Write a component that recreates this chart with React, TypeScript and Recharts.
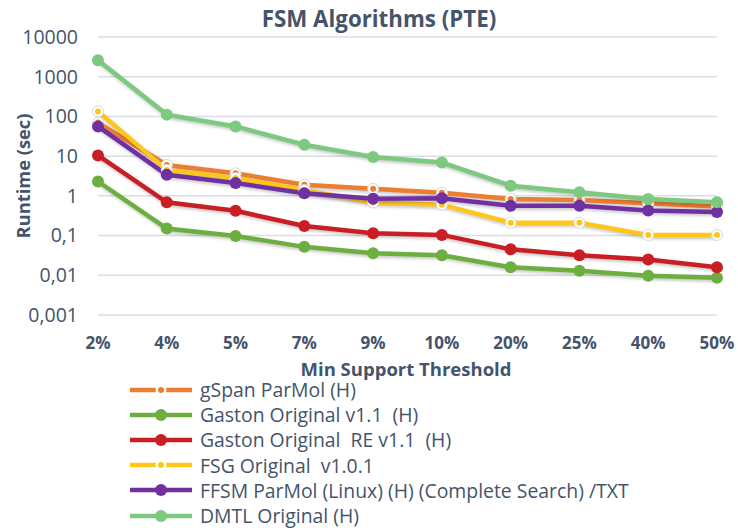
import React from 'react';
import { LineChart, Line, XAxis, YAxis, CartesianGrid } from 'recharts';

const categories = ['2%', '4%', '5%', '7%', '9%', '10%', '20%', '25%', '40%', '50%'];
const gSpanParMol = [70, 6, 3.7, 1.9, 1.5, 1.2, 0.83, 0.79, 0.65, 0.54];
const gastonOriginal = [2.3, 0.15, 0.098, 0.052, 0.036, 0.032, 0.016, 0.013, 0.0098, 0.0087];
const gastonRE = [10.4, 0.69, 0.42, 0.175, 0.114, 0.104, 0.045, 0.032, 0.025, 0.016];
const fsgOriginal = [134, 4.5, 2.8, 1.4, 0.68, 0.6, 0.21, 0.21, 0.104, 0.104];
const ffsmParMol = [56, 3.4, 2.1, 1.17, 0.84, 0.87, 0.56, 0.56, 0.43, 0.39];
const dmtlOriginal = [2600, 111, 56, 19.4, 9.5, 6.9, 1.8, 1.24, 0.83, 0.69];
const yTicks = [0.001, 0.01, 0.1, 1, 10, 100, 1000, 10000];

const series = [
  { key: 'gspan', name: 'gSpan ParMol (H)', values: gSpanParMol, color: '#ED7D31', hollow: true },
  { key: 'gaston', name: 'Gaston Original v1.1  (H)', values: gastonOriginal, color: '#6DAF3F', hollow: false },
  { key: 'gastonre', name: 'Gaston Original  RE v1.1  (H)', values: gastonRE, color: '#C81E24', hollow: false },
  { key: 'fsg', name: 'FSG Original  v1.0.1', values: fsgOriginal, color: '#FFC61A', hollow: true },
  { key: 'ffsm', name: 'FFSM ParMol (Linux) (H) (Complete Search) /TXT', values: ffsmParMol, color: '#7030A0', hollow: false },
  { key: 'dmtl', name: 'DMTL Original (H)', values: dmtlOriginal, color: '#7CC97F', hollow: false },
];

const data = categories.map((c, i) => {
  const row: Record<string, string | number> = { cat: c };
  series.forEach((s) => {
    row[s.key] = s.values[i];
  });
  return row;
});

const TEXT = '#44546A';
const FONT = '"Open Sans", "Noto Sans", sans-serif';

const makeDot = (color: string, hollow: boolean) => (props: any) => {
  const { cx, cy, index } = props;
  if (cx == null || cy == null) return <g key={index} />;
  if (hollow) {
    return (
      <g key={index}>
        <circle cx={cx} cy={cy} r={5.5} fill="#ffffff" stroke="#d8d8d8" strokeWidth={1} />
        <circle cx={cx} cy={cy} r={3} fill={color} />
      </g>
    );
  }
  return <circle key={index} cx={cx} cy={cy} r={6} fill={color} />;
};

const LegendBlock = () => (
  <div
    style={{
      position: 'absolute',
      left: 128,
      top: 377,
      fontFamily: FONT,
      fontSize: 19.4,
      color: TEXT,
      whiteSpace: 'pre',
    }}
  >
    {series.map((s) => (
      <div key={s.key} style={{ display: 'flex', alignItems: 'center', height: 25.2 }}>
        <svg width={68} height={14} style={{ marginRight: 4 }}>
          <line x1={2} y1={7} x2={64} y2={7} stroke={s.color} strokeWidth={4.5} />
          {s.hollow ? (
            <>
              <circle cx={33} cy={7} r={5.5} fill="#ffffff" />
              <circle cx={33} cy={7} r={3} fill={s.color} />
            </>
          ) : (
            <circle cx={33} cy={7} r={6} fill={s.color} />
          )}
        </svg>
        <span>{s.name}</span>
      </div>
    ))}
  </div>
);

const fmt = (v: number) => String(v).replace('.', ',');

export default function App() {
  return (
    <div style={{ position: 'absolute', left: 0, top: 0, width: 738, height: 528, background: '#fff' }}>
      <style>{`.recharts-line-curve { filter: drop-shadow(1px 2px 1.5px rgba(0,0,0,0.22)); }`}</style>
      <LineChart
        width={738}
        height={528}
        data={data}
        margin={{ top: 37, right: 21, bottom: 183, left: 0 }}
      >
        <text
          x={379}
          y={18}
          textAnchor="middle"
          dominantBaseline="central"
          style={{ fontFamily: FONT, fontSize: 22.3, fontWeight: 700, fill: TEXT }}
        >
          FSM Algorithms (PTE)
        </text>
        <CartesianGrid vertical={false} stroke="#D9DDE4" strokeWidth={1.5} />
        <XAxis
          dataKey="cat"
          height={30}
          axisLine={false}
          tickLine={false}
          tickSize={0}
          tickMargin={22}
          interval={0}
          tick={{ fontFamily: FONT, fontSize: 17, fontWeight: 700, fill: TEXT }}
          label={{
            content: () => (
              <text
                x={406}
                y={368}
                textAnchor="middle"
                dominantBaseline="central"
                style={{ fontFamily: FONT, fontSize: 18.5, fontWeight: 700, fill: TEXT }}
              >
                Min Support Threshold
              </text>
            ),
          }}
        />
        <YAxis
          scale="log"
          domain={[0.001, 10000]}
          ticks={yTicks}
          interval={0}
          allowDataOverflow
          width={98}
          axisLine={false}
          tickLine={false}
          tickSize={0}
          tickMargin={20}
          tickFormatter={fmt}
          tick={{ fontFamily: FONT, fontSize: 19.5, fill: TEXT }}
          label={{
            content: () => (
              <text
                x={22}
                y={176}
                textAnchor="middle"
                dominantBaseline="central"
                transform="rotate(-90 22 176)"
                style={{ fontFamily: FONT, fontSize: 18.3, fontWeight: 700, fill: TEXT }}
              >
                Runtime (sec)
              </text>
            ),
          }}
        />
        {series.map((s) => (
          <Line
            key={s.key}
            dataKey={s.key}
            name={s.name}
            stroke={s.color}
            strokeWidth={4.5}
            dot={makeDot(s.color, s.hollow)}
            activeDot={false}
            isAnimationActive={false}
          />
        ))}
      </LineChart>
      <LegendBlock />
    </div>
  );
}
